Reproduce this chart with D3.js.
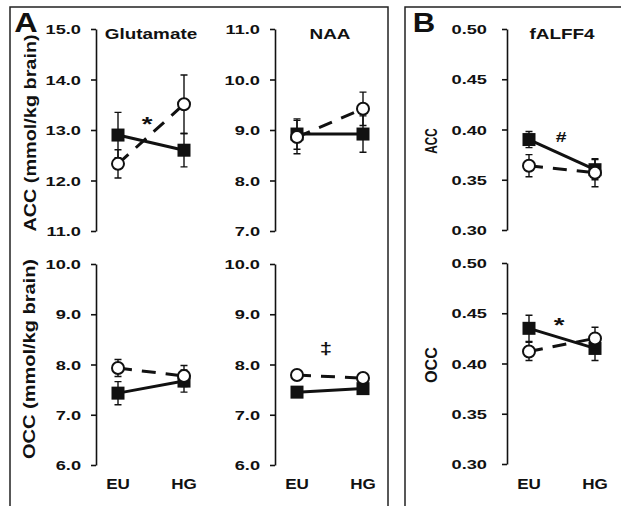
<!DOCTYPE html>
<html>
<head>
<meta charset="utf-8">
<script src="https://cdn.jsdelivr.net/npm/d3@7"></script>
<style>
  body { margin: 0; background: #fff; }
  svg { display: block; }
  text { font-family: Arial, "Liberation Sans", sans-serif; font-weight: bold; fill: #111; }
</style>
</head>
<body>
<div id="chart"></div>
<script>
// Groups on the x axis
const groups = ['EU', 'HG'];

// Tick values for each panel
const ticksGlutACC = [11, 12, 13, 14, 15];
const ticksNaaACC = [7, 8, 9, 10, 11];
const ticksOCC = [6, 7, 8, 9, 10];
const ticksFalff = [0.30, 0.35, 0.40, 0.45, 0.50];

// Filled squares (solid line) and open circles (dashed line), mean and error
const glutACC_sq = [12.90, 12.60], glutACC_sqErr = [0.45, 0.33];
const glutACC_ci = [12.33, 13.51], glutACC_ciErr = [0.28, 0.58];
const naaACC_sq = [8.92, 8.92], naaACC_sqErr = [0.30, 0.36];
const naaACC_ci = [8.86, 9.42], naaACC_ciErr = [0.33, 0.33];
const glutOCC_sq = [7.43, 7.67], glutOCC_sqErr = [0.23, 0.22];
const glutOCC_ci = [7.93, 7.77], glutOCC_ciErr = [0.17, 0.21];
const naaOCC_sq = [7.45, 7.52], naaOCC_sqErr = [0.06, 0.06];
const naaOCC_ci = [7.79, 7.73], naaOCC_ciErr = [0.05, 0.05];
const falffACC_sq = [0.390, 0.360], falffACC_sqErr = [0.008, 0.010];
const falffACC_ci = [0.364, 0.357], falffACC_ciErr = [0.011, 0.014];
const falffOCC_sq = [0.435, 0.415], falffOCC_sqErr = [0.013, 0.012];
const falffOCC_ci = [0.412, 0.425], falffOCC_ciErr = [0.009, 0.011];

const W = 621, H = 506;
const SX = 1.38; // text in the figure is stretched sideways

const svg = d3.select('#chart').append('svg')
    .attr('width', W).attr('height', H);

// Panel frames
svg.append('rect').attr('x', 10).attr('y', 7).attr('width', 378).attr('height', 520)
    .attr('fill', 'none').attr('stroke', '#222').attr('stroke-width', 1.5);
svg.append('rect').attr('x', 405).attr('y', 7).attr('width', 240).attr('height', 520)
    .attr('fill', 'none').attr('stroke', '#222').attr('stroke-width', 1.5);

function label(x, y, s, size, sx, anchor) {
    return svg.append('text')
        .attr('transform', `translate(${x},${y}) scale(${sx},1)`)
        .attr('text-anchor', anchor || 'middle')
        .style('font-size', size + 'px')
        .text(s);
}

function panel(cfg) {
    const y = d3.scaleLinear().domain(d3.extent(cfg.ticks)).range([cfg.yBot, cfg.yTop]);
    const x = d3.scaleLinear().domain([0, 1]).range([cfg.ax + 22, cfg.ax + 88]);
    const g = svg.append('g');

    const axis = d3.axisLeft(y).tickValues(cfg.ticks).tickSize(5).tickSizeOuter(0)
        .tickFormat(d3.format(cfg.fmt));
    const ag = g.append('g').attr('transform', `translate(${cfg.ax},0)`).call(axis);
    ag.select('.domain').attr('stroke', '#111').attr('stroke-width', 1.6);
    ag.selectAll('.tick line').attr('stroke', '#111').attr('stroke-width', 1.6);
    ag.selectAll('.tick text')
        .attr('x', null).attr('dy', null)
        .attr('transform', `translate(${-cfg.gap},4.7) scale(${SX},1)`)
        .attr('text-anchor', 'end')
        .attr('fill', '#111')
        .style('font-family', 'Arial, "Liberation Sans", sans-serif')
        .style('font-weight', 'bold')
        .style('font-size', '13.2px');

    const idx = [0, 1];
    const series = [
        { v: cfg.sq, e: cfg.sqErr, dash: null, shape: 'sq' },
        { v: cfg.ci, e: cfg.ciErr, dash: '14,10', shape: 'ci' }
    ];
    series.forEach(s => {
        g.append('path')
            .attr('d', d3.line().x(i => x(i)).y(i => y(s.v[i]))(idx))
            .attr('fill', 'none').attr('stroke', '#111').attr('stroke-width', 3)
            .attr('stroke-dasharray', s.dash);
        idx.forEach(i => {
            const x0 = x(i), y1 = y(s.v[i] + s.e[i]), y2 = y(s.v[i] - s.e[i]);
            g.append('path')
                .attr('d', `M${x0},${y1}V${y2}M${x0 - 3.5},${y1}H${x0 + 3.5}M${x0 - 3.5},${y2}H${x0 + 3.5}`)
                .attr('stroke', '#111').attr('stroke-width', 1.4).attr('fill', 'none');
        });
        idx.forEach(i => {
            if (s.shape === 'sq') {
                g.append('rect').attr('x', x(i) - 6.5).attr('y', y(s.v[i]) - 6.5)
                    .attr('width', 13).attr('height', 13).attr('fill', '#111');
            } else {
                g.append('circle').attr('cx', x(i)).attr('cy', y(s.v[i])).attr('r', 6)
                    .attr('fill', '#fff').attr('stroke', '#111').attr('stroke-width', 2);
            }
        });
    });

    if (cfg.title) label(cfg.ax + 55, 39, cfg.title, 14, 1.35);
    if (cfg.xlabels) groups.forEach((d, i) => label(x(i), 489, d, 14, 1.22));
}

panel({ ax: 96, yTop: 29, yBot: 231, ticks: ticksGlutACC, fmt: '.1f', gap: 15,
    sq: glutACC_sq, sqErr: glutACC_sqErr, ci: glutACC_ci, ciErr: glutACC_ciErr, title: 'Glutamate' });
panel({ ax: 275, yTop: 29, yBot: 231, ticks: ticksNaaACC, fmt: '.1f', gap: 15,
    sq: naaACC_sq, sqErr: naaACC_sqErr, ci: naaACC_ci, ciErr: naaACC_ciErr, title: 'NAA' });
panel({ ax: 96, yTop: 264, yBot: 465, ticks: ticksOCC, fmt: '.1f', gap: 15,
    sq: glutOCC_sq, sqErr: glutOCC_sqErr, ci: glutOCC_ci, ciErr: glutOCC_ciErr, xlabels: true });
panel({ ax: 275, yTop: 264, yBot: 465, ticks: ticksOCC, fmt: '.1f', gap: 15,
    sq: naaOCC_sq, sqErr: naaOCC_sqErr, ci: naaOCC_ci, ciErr: naaOCC_ciErr, xlabels: true });
panel({ ax: 507, yTop: 29, yBot: 230, ticks: ticksFalff, fmt: '.2f', gap: 20,
    sq: falffACC_sq, sqErr: falffACC_sqErr, ci: falffACC_ci, ciErr: falffACC_ciErr, title: 'fALFF4' });
panel({ ax: 507, yTop: 263, yBot: 464, ticks: ticksFalff, fmt: '.2f', gap: 20,
    sq: falffOCC_sq, sqErr: falffOCC_sqErr, ci: falffOCC_ci, ciErr: falffOCC_ciErr, xlabels: true });

// Panel letters
label(26, 32, 'A', 27, 1.2);
label(424, 32, 'B', 27, 1.15);

// Rotated axis titles: sx stretches along the text, sy stretches glyph height
function ylab(x, y, s, size, sx, sy) {
    svg.append('text')
        .attr('transform', `translate(${x},${y}) rotate(-90) scale(${sx},${sy})`)
        .attr('text-anchor', 'middle')
        .style('font-size', size + 'px')
        .text(s);
}
ylab(36, 133, 'ACC (mmol/kg brain)', 16, 1.24, 1);
ylab(35, 359, 'OCC (mmol/kg brain)', 16, 1.25, 1);
ylab(437, 141, 'ACC', 15, 0.78, 1.12);
ylab(437, 365, 'OCC', 15, 1.08, 1.12);

// Significance marks
label(147, 131, '*', 20, SX);
label(559, 332, '*', 20, SX);
label(561, 142, '#', 14, SX);
label(326, 354, '\u2021', 16, SX);
</script>
</body>
</html>
